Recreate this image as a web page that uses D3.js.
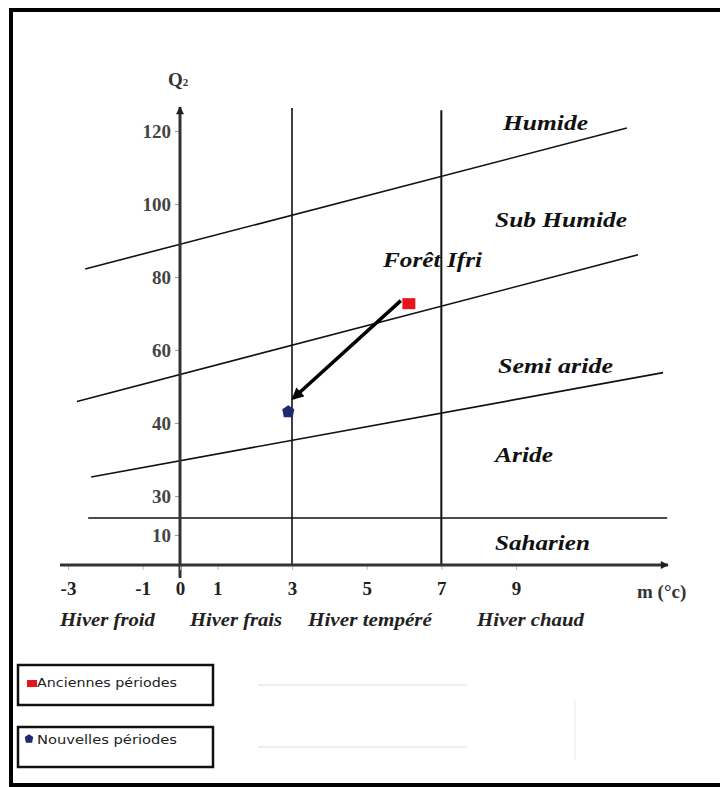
<!DOCTYPE html>
<html>
<head>
<meta charset="utf-8">
<script src="https://cdn.jsdelivr.net/npm/d3@7"></script>
<style>
  body { margin: 0; background: #fff; }
  svg { display: block; }
</style>
</head>
<body>
<svg id="chart" width="720" height="787"></svg>
<script>
// Emberger climagram: Q2 pluviothermic quotient vs m (mean minimum of the coldest month)

// Axis ticks
const xTicks = [-3, -1, 0, 1, 3, 5, 7, 9];
const yTicks = [10, 30, 40, 60, 80, 100, 120];

// Bioclimatic boundary lines: [m, Q2] at each end
const limitNames = ["Humide|Sub Humide", "Sub Humide|Semi aride", "Semi aride|Aride", "Aride|Saharien"];
const limitStart = [[-2.54, 82.2], [-2.76, 45.9], [-2.38, 32.6], [-2.46, 18.7]];
const limitEnd   = [[11.97, 120.8], [12.27, 86.1], [12.94, 53.8], [13.05, 18.7]];

// Winter-type separators (m values) and their upper Q2 reach
const winterLimits = [3, 7];
const winterTop = [126.3, 125.7];

// Zone and winter labels
const zoneLabels = ["Humide", "Sub Humide", "Semi aride", "Aride", "Saharien"];
const winterLabels = ["Hiver froid", "Hiver frais", "Hiver tempéré", "Hiver chaud"];

// Station: Forêt Ifri, two periods
const stationName = "Forêt Ifri";
const periods = ["Anciennes périodes", "Nouvelles périodes"];
const mValues = [6.13, 2.9];
const q2Values = [72.7, 43.2];

const svg = d3.select("#chart");

// Scales (the Q2 axis is stretched non-uniformly below 40)
const x = d3.scaleLinear().domain([-3, 9]).range([68, 516]);
const y = d3.scaleLinear().domain([0, 10, 30, 40, 120]).range([565, 535, 496, 423, 131]);

const serif = "'Liberation Serif', 'Times New Roman', serif";
const sans = "'DejaVu Sans', Verdana, sans-serif";

// Outer frame (open on the right, running past the page edge)
const frame = svg.append("g").attr("stroke", "#000").attr("stroke-width", 4).attr("fill", "none");
frame.append("path").attr("d", "M740,10 L11,10 L11,785 L740,785");

// Arrow markers
const defs = svg.append("defs");
defs.append("marker")
  .attr("id", "axisArrow").attr("viewBox", "0 0 10 10")
  .attr("refX", 9).attr("refY", 5)
  .attr("markerWidth", 9).attr("markerHeight", 8)
  .attr("markerUnits", "userSpaceOnUse")
  .attr("orient", "auto")
  .append("path").attr("d", "M0,0 L10,5 L0,10 z").attr("fill", "#222");
defs.append("marker")
  .attr("id", "trendArrow").attr("viewBox", "0 0 10 10")
  .attr("refX", 8).attr("refY", 5)
  .attr("markerWidth", 13).attr("markerHeight", 12)
  .attr("markerUnits", "userSpaceOnUse")
  .attr("orient", "auto")
  .append("path").attr("d", "M0,0 L10,5 L0,10 z").attr("fill", "#000");

// Boundary lines between bioclimatic zones
const line = d3.line().x(d => x(d[0])).y(d => y(d[1]));
svg.append("g").selectAll("path")
  .data(limitNames.map((n, i) => [limitStart[i], limitEnd[i]]))
  .join("path")
  .attr("d", line)
  .attr("fill", "none").attr("stroke", "#111").attr("stroke-width", 1.6);

// Vertical winter-type separators
svg.append("g").selectAll("line")
  .data(winterLimits)
  .join("line")
  .attr("x1", d => x(d)).attr("x2", d => x(d))
  .attr("y1", y(0)).attr("y2", (d, i) => y(winterTop[i]))
  .attr("stroke", "#111").attr("stroke-width", (d, i) => i === 0 ? 1.6 : 2);

// Y axis
const yAxis = svg.append("g")
  .attr("transform", `translate(${x(0)},0)`)
  .call(d3.axisLeft(y).tickValues(yTicks).tickSize(5).tickPadding(4).tickFormat(d => String(d)));
yAxis.select(".domain").remove();
yAxis.selectAll(".tick line").attr("stroke", "#999");
yAxis.selectAll(".tick text")
  .attr("font-family", serif).attr("font-weight", "bold").attr("font-size", 19)
  .attr("fill", "#444").attr("dy", "0.34em");
svg.append("line")
  .attr("x1", x(0)).attr("x2", x(0))
  .attr("y1", 578).attr("y2", y(126.3) - 1)
  .attr("stroke", "#333").attr("stroke-width", 3)
  .attr("marker-end", "url(#axisArrow)");

// X axis
const xAxis = svg.append("g")
  .attr("transform", `translate(0,${y(0)})`)
  .call(d3.axisBottom(x).tickValues(xTicks).tickSize(5).tickPadding(12).tickFormat(d => String(d)));
xAxis.select(".domain").remove();
xAxis.selectAll(".tick line").attr("stroke", "#bbb");
xAxis.selectAll(".tick text")
  .attr("font-family", serif).attr("font-weight", "bold").attr("font-size", 19)
  .attr("fill", "#222");
svg.append("line")
  .attr("x1", 60).attr("x2", 668)
  .attr("y1", y(0)).attr("y2", y(0))
  .attr("stroke", "#333").attr("stroke-width", 3)
  .attr("marker-end", "url(#axisArrow)");

// Axis titles
const qTitle = svg.append("text")
  .attr("x", 168).attr("y", 86)
  .attr("font-family", serif).attr("font-weight", "bold").attr("font-size", 19)
  .attr("fill", "#333").text("Q");
qTitle.append("tspan").attr("font-size", 11).attr("dy", 0).text("2");

svg.append("text")
  .attr("x", 637).attr("y", 598)
  .attr("font-family", serif).attr("font-weight", "bold").attr("font-size", 19)
  .attr("fill", "#333").text("m (°c)");

// Winter-type labels under the x axis
const winterLayout = [[60, 95], [190, 92], [308, 124], [477, 107]];
svg.append("g").selectAll("text")
  .data(winterLabels)
  .join("text")
  .attr("x", (d, i) => winterLayout[i][0]).attr("y", 626)
  .attr("textLength", (d, i) => winterLayout[i][1]).attr("lengthAdjust", "spacingAndGlyphs")
  .attr("font-family", serif).attr("font-style", "italic").attr("font-weight", "bold")
  .attr("font-size", 18).attr("fill", "#222")
  .text(d => d);

// Zone labels
const zoneLayout = [[503, 130, 85], [495, 227, 132], [498, 373, 115], [495, 462, 58], [495, 550, 95]];
svg.append("g").selectAll("text")
  .data(zoneLabels)
  .join("text")
  .attr("x", (d, i) => zoneLayout[i][0]).attr("y", (d, i) => zoneLayout[i][1])
  .attr("textLength", (d, i) => zoneLayout[i][2]).attr("lengthAdjust", "spacingAndGlyphs")
  .attr("font-family", serif).attr("font-style", "italic").attr("font-weight", "bold")
  .attr("font-size", 21).attr("fill", "#111")
  .text(d => d);

// Station name
svg.append("text")
  .attr("x", 383).attr("y", 267)
  .attr("textLength", 99).attr("lengthAdjust", "spacingAndGlyphs")
  .attr("font-family", serif).attr("font-style", "italic").attr("font-weight", "bold")
  .attr("font-size", 21).attr("fill", "#111")
  .text(stationName);

// Shift arrow from the old period to the new one
const p0 = [x(mValues[0]), y(q2Values[0])];
const p1 = [x(mValues[1]), y(q2Values[1])];
svg.append("line")
  .attr("x1", p0[0] - 8).attr("y1", p0[1] - 3)
  .attr("x2", p1[0] + 5).attr("y2", p1[1] - 13)
  .attr("stroke", "#000").attr("stroke-width", 3.5)
  .attr("marker-end", "url(#trendArrow)");

// Period markers
const pentagon = "M0,-6 L6,-2 L4.5,6 L-4.5,6 L-6,-2 Z";
svg.append("rect")
  .attr("x", p0[0] - 6.5).attr("y", p0[1] - 5.5)
  .attr("width", 13).attr("height", 11)
  .attr("fill", "#e8141b");
svg.append("path")
  .attr("transform", `translate(${p1[0]},${p1[1]})`)
  .attr("d", pentagon).attr("fill", "#1d2a6e");

// Legend boxes
const legendTop = [665, 727];
const legend = svg.append("g").selectAll("g")
  .data(periods)
  .join("g")
  .attr("transform", (d, i) => `translate(18,${legendTop[i]})`);
legend.append("rect")
  .attr("width", 195).attr("height", 40)
  .attr("fill", "#fff").attr("stroke", "#111").attr("stroke-width", 2.5);
legend.filter((d, i) => i === 0).append("rect")
  .attr("x", 9).attr("y", 15).attr("width", 10).attr("height", 7)
  .attr("fill", "#e8141b");
legend.filter((d, i) => i === 1).append("path")
  .attr("transform", "translate(11,11.5) scale(0.7)")
  .attr("d", pentagon).attr("fill", "#1d2a6e");
legend.append("text")
  .attr("x", 19).attr("y", (d, i) => i === 0 ? 22 : 17)
  .attr("textLength", 140).attr("lengthAdjust", "spacingAndGlyphs")
  .attr("font-family", sans).attr("font-size", 11.5).attr("fill", "#222")
  .text(d => d);

// Faint guide strokes beside the legend
const faint = svg.append("g").attr("stroke", "#eeeeee").attr("stroke-width", 2);
faint.append("line").attr("x1", 258).attr("x2", 467).attr("y1", 685).attr("y2", 685);
faint.append("line").attr("x1", 258).attr("x2", 467).attr("y1", 747).attr("y2", 747);
faint.append("line").attr("x1", 575).attr("x2", 575).attr("y1", 700).attr("y2", 760).attr("stroke", "#f4f4f4");
</script>
</body>
</html>
